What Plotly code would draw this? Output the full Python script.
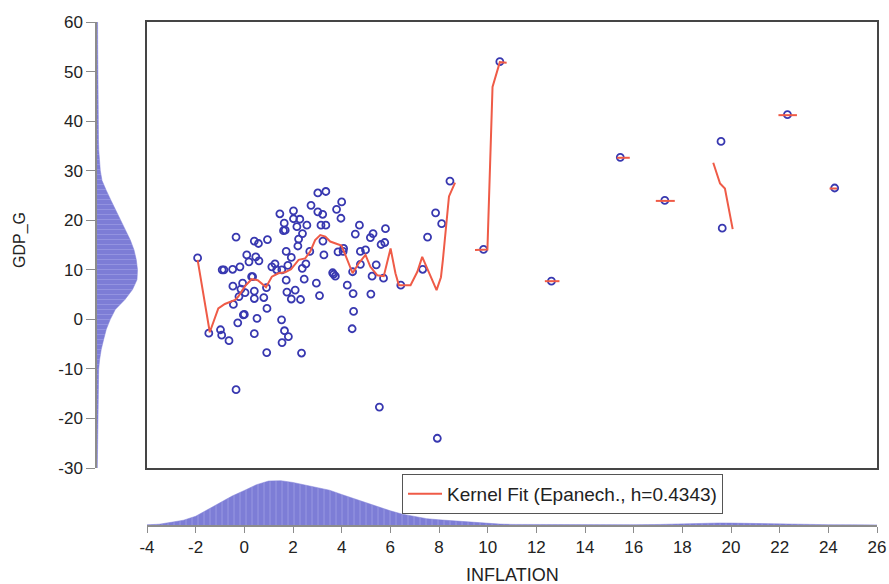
import plotly.graph_objects as go

# ---- observations: inflation (x) vs GDP growth (y) ----
inflation = [
    -1.92, -1.46, -0.98, -0.93, -0.63, -0.34, -0.91, -0.84, -0.48, -0.18,
    -0.34, -0.47, -0.45, -0.27, -0.07, -0.14, -0.22, 0.03, -0.04, 0.00,
    0.10, 0.19, 0.30, 0.34, 0.41, 0.58, 0.47, 0.60, 0.41, 0.41,
    0.52, 0.41, 0.80, 0.91, 0.93, 0.92, 0.95, 1.13, 1.26, 1.33,
    1.54, 1.53, 1.65, 1.81, 1.55, 2.35, 1.46, 1.64, 1.61, 1.68,
    1.72, 1.72, 1.93, 1.79, 1.75, 1.93, 2.02, 2.02, 2.16, 2.28,
    2.39, 2.23, 2.20, 2.09, 2.31, 2.57, 2.38, 2.53, 2.46, 2.69,
    2.74, 3.02, 3.35, 3.02, 3.22, 3.15, 3.35, 3.79, 4.00, 3.97,
    3.23, 3.27, 2.96, 3.09, 3.63, 3.67, 3.74, 3.85, 4.08, 4.06,
    4.23, 4.47, 4.49, 4.43, 4.45, 4.56, 4.73, 4.77, 4.98, 4.77,
    5.18, 5.29, 5.25, 5.20, 5.42, 5.62, 5.77, 5.80, 5.72, 5.55,
    6.43, 7.33, 7.53, 7.86, 8.11, 7.93, 8.45, 9.83, 10.50, 12.62,
    15.45, 17.28, 19.59, 19.64, 22.32, 24.26,
]
gdp_g = [
    12.4, -2.8, -2.1, -3.2, -4.3, -14.2, 10.0, 10.0, 10.1, 10.6,
    16.6, 6.7, 3.0, -0.7, 7.3, 6.1, 4.6, 5.4, 0.9, 1.0,
    13.0, 11.6, 8.6, 8.6, 15.8, 15.3, 12.6, 11.8, 5.7, 4.2,
    0.2, -2.9, 4.4, 6.4, 2.2, -6.7, 16.1, 10.6, 11.2, 10.0,
    10.0, -0.1, -2.3, -3.5, -4.7, -6.8, 21.3, 19.4, 17.9, 18.0,
    7.9, 13.7, 12.5, 10.9, 5.5, 4.1, 21.9, 20.3, 18.7, 20.2,
    17.3, 16.2, 14.8, 5.9, 4.0, 19.0, 10.3, 11.2, 8.1, 13.7,
    23.0, 25.5, 25.8, 21.7, 21.2, 19.0, 19.0, 22.2, 23.7, 20.4,
    15.8, 13.0, 7.3, 4.8, 9.4, 9.1, 8.7, 13.6, 14.3, 13.7,
    6.9, 5.2, 1.6, -1.9, 9.6, 17.2, 19.0, 13.7, 14.0, 11.1,
    16.5, 17.3, 8.7, 5.1, 11.0, 15.1, 15.5, 18.3, 8.3, -17.7,
    6.9, 10.1, 16.6, 21.5, 19.3, -24.0, 27.9, 14.1, 52.0, 7.7,
    32.7, 24.0, 35.9, 18.4, 41.3, 26.5,
]

# ---- kernel fit (Epanechnikov, h = 0.4343); None marks gaps with no support ----
fit_x = [
    -1.92, -1.42, -1.07, -0.80, -0.38, -0.25, 0.03, 0.30, 0.55, 0.89,
    1.13, 1.40, 1.68, 1.92, 2.23, 2.50, 2.71, 2.91, 3.12, 3.33,
    3.53, 3.81, 3.99, 4.15, 4.45, 4.70, 4.98, 5.18, 5.46, 5.73,
    6.01, 6.21, 6.35, 6.83, 7.11, 7.31, 7.90, 8.08, 8.16, 8.41, 8.66,
    None, 9.48, 9.99, 10.20, 10.50, 10.78,
    None, 12.35, 12.95,
    None, 15.31, 15.84,
    None, 16.91, 17.69,
    None, 19.27, 19.55, 19.75, 20.07,
    None, 21.95, 22.71,
    None, 24.05, 24.36,
]
fit_y = [
    12.0, -2.6, 2.2, 3.1, 3.9, 4.6, 6.7, 8.1, 7.9, 6.5,
    8.6, 9.3, 9.5, 10.1, 12.0, 12.3, 13.7, 16.0, 17.0, 16.7,
    15.7, 15.2, 14.9, 13.0, 9.3, 11.3, 13.0, 10.6, 8.9, 8.7,
    14.3, 9.3, 6.9, 6.9, 9.6, 12.6, 5.9, 8.5, 12.0, 24.8, 27.6,
    None, 14.0, 14.1, 46.9, 51.9, 51.8,
    None, 7.7, 7.7,
    None, 32.6, 32.6,
    None, 23.9, 23.9,
    None, 31.6, 27.4, 26.4, 18.2,
    None, 41.2, 41.2,
    None, 26.4, 26.4,
]

# ---- marginal kernel densities ----
infl_grid = [
    -4, -3.5, -3, -2.5, -2, -1.5, -1, -0.5, 0, 0.5,
    1, 1.5, 2, 2.5, 3, 3.5, 4, 4.5, 5, 5.5,
    6, 6.5, 7, 7.5, 8, 8.5, 9, 9.5, 10, 10.5,
    11, 12, 13, 14, 15, 16, 17, 17.5, 18, 18.5,
    19, 19.5, 20, 20.5, 21, 21.5, 22, 23, 24, 25, 26,
]
infl_density = [
    0.0005, 0.0020, 0.0068, 0.0120, 0.0218, 0.0388, 0.0563, 0.0725, 0.0863, 0.1008,
    0.1100, 0.1108, 0.1063, 0.1000, 0.0945, 0.0870, 0.0763, 0.0658, 0.0550, 0.0450,
    0.0355, 0.0270, 0.0208, 0.0158, 0.0130, 0.0108, 0.0083, 0.0065, 0.0038, 0.0023,
    0.0015, 0.0010, 0.0008, 0.0008, 0.0008, 0.0008, 0.0013, 0.0023, 0.0035, 0.0045,
    0.0050, 0.0050, 0.0048, 0.0043, 0.0030, 0.0020, 0.0013, 0.0008, 0.0008, 0.0005, 0.0003,
]
gdp_grid = [
    -30, -28, -26, -22, -19, -15, -12, -10, -8, -6,
    -4, -2, 0, 2, 4, 6, 8, 10, 12, 14,
    16, 18, 20, 22, 24, 26, 28, 30, 32, 34,
    36, 40, 42, 46, 50, 55, 60,
]
gdp_density = [
    0.0003, 0.0004, 0.0005, 0.0008, 0.0010, 0.0011, 0.0013, 0.0017, 0.0027, 0.0043,
    0.0067, 0.0093, 0.0133, 0.0183, 0.0280, 0.0355, 0.0400, 0.0405, 0.0393, 0.0370,
    0.0333, 0.0283, 0.0233, 0.0183, 0.0140, 0.0093, 0.0050, 0.0033, 0.0023, 0.0018,
    0.0015, 0.0012, 0.0010, 0.0008, 0.0008, 0.0007, 0.0006,
]

x_ticks = list(range(-4, 27, 2))
y_ticks = list(range(-30, 61, 10))

W, H = 889, 584
def px_x(p):
    return p / W
def px_y(p):
    return 1 - p / H

FONT = "Liberation Sans, Arial, sans-serif"
DENS_FILL = "#7d7dd6"
DENS_STRIPE = "#a9a9ea"

fig = go.Figure()

# scatter of observations
fig.add_trace(go.Scatter(
    x=inflation, y=gdp_g, mode="markers",
    marker=dict(symbol="circle-open", size=7, color="#3838b0",
                line=dict(width=1.8)),
    xaxis="x", yaxis="y", showlegend=False, hoverinfo="x+y",
))

# kernel fit line
fig.add_trace(go.Scatter(
    x=fit_x, y=fit_y, mode="lines", connectgaps=False,
    line=dict(color="#ef5b47", width=2),
    name="Kernel Fit (Epanech., h=0.4343)",
    xaxis="x", yaxis="y", showlegend=True,
))

# left marginal: GDP_G density drawn sideways
fig.add_trace(go.Scatter(
    x=gdp_density, y=gdp_grid, mode="lines", fill="tozerox",
    fillcolor=DENS_FILL, line=dict(color=DENS_FILL, width=0.5),
    fillpattern=dict(shape="-", bgcolor=DENS_FILL, fgcolor=DENS_STRIPE,
                     size=5, solidity=0.2),
    xaxis="x2", yaxis="y2", showlegend=False, hoverinfo="skip",
))

# bottom marginal: INFLATION density
fig.add_trace(go.Scatter(
    x=infl_grid, y=infl_density, mode="lines", fill="tozeroy",
    fillcolor=DENS_FILL, line=dict(color=DENS_FILL, width=0.5),
    fillpattern=dict(shape="|", bgcolor=DENS_FILL, fgcolor=DENS_STRIPE,
                     size=6, solidity=0.2),
    xaxis="x3", yaxis="y3", showlegend=False, hoverinfo="skip",
))

main_x_dom = [px_x(147), px_x(877)]
main_y_dom = [px_y(468), px_y(22)]
tickfont = dict(family=FONT, size=17, color="#222222")

fig.update_layout(
    width=W, height=H,
    margin=dict(l=0, r=0, t=0, b=0, autoexpand=False),
    paper_bgcolor="white", plot_bgcolor="white",
    font=dict(family=FONT, color="#222222"),
    xaxis=dict(domain=main_x_dom, range=[-4, 26], anchor="y",
               showgrid=False, zeroline=False, showticklabels=False,
               ticks="", showline=True, mirror=True,
               linecolor="#454545", linewidth=2),
    yaxis=dict(domain=main_y_dom, range=[-30, 60], anchor="x",
               showgrid=False, zeroline=False, showticklabels=False,
               ticks="", showline=True, mirror=True,
               linecolor="#454545", linewidth=2),
    xaxis2=dict(domain=[px_x(97), px_x(147)], range=[0, 0.05], anchor="y2",
                visible=False),
    yaxis2=dict(domain=main_y_dom, range=[-30, 60], anchor="x2", side="left",
                showgrid=False, zeroline=False, showline=True,
                linecolor="#8c8c8c", linewidth=1.5,
                ticks="outside", ticklen=9, tickcolor="#8c8c8c", tickwidth=1.2,
                tickvals=y_ticks, ticktext=[str(v) for v in y_ticks],
                tickfont=tickfont),
    xaxis3=dict(domain=main_x_dom, range=[-4, 26], anchor="y3",
                showgrid=False, zeroline=False, showline=True,
                linecolor="#8c8c8c", linewidth=1.5,
                ticks="outside", ticklen=6, tickcolor="#8c8c8c", tickwidth=1.2,
                tickvals=x_ticks, ticktext=[str(v) for v in x_ticks],
                tickfont=tickfont),
    yaxis3=dict(domain=[px_y(525), px_y(470)], range=[0, 0.1375], anchor="x3",
                visible=False),
    legend=dict(x=px_x(402), y=px_y(474), xanchor="left", yanchor="top",
                bgcolor="white", bordercolor="#555555", borderwidth=1,
                font=dict(family=FONT, size=19, color="#222222"),
                itemwidth=34),
    annotations=[
        dict(text="GDP_G", x=px_x(20), y=px_y(240), xref="paper", yref="paper",
             showarrow=False, textangle=-90, xanchor="center", yanchor="middle",
             font=dict(family=FONT, size=16, color="#222222")),
        dict(text="INFLATION", x=px_x(512), y=px_y(575), xref="paper", yref="paper",
             showarrow=False, xanchor="center", yanchor="middle",
             font=dict(family=FONT, size=18, color="#222222")),
    ],
)

# page without body margin so the figure fills the window exactly
page_css = (
    "document.documentElement.style.margin='0';"
    "document.documentElement.style.overflow='hidden';"
    "document.body.style.margin='0';"
    "document.body.style.overflow='hidden';"
)

fig.write_html("out.html", post_script=page_css)
